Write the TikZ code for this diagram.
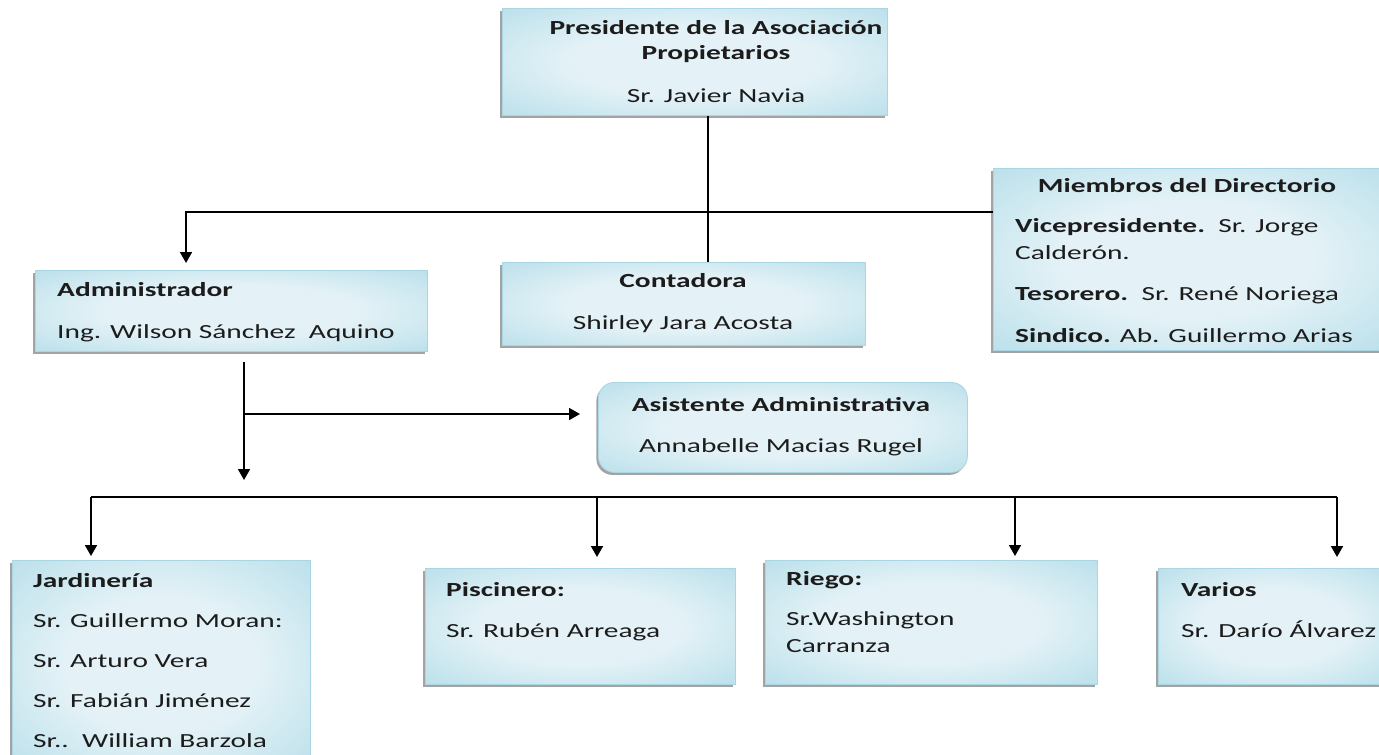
\documentclass[tikz,border=0pt]{standalone}
\usepackage{fontspec}
\setmainfont{Carlito}[FakeStretch=1.47]
\usetikzlibrary{arrows.meta, shadows}

\definecolor{boxdark}{HTML}{8ECADB}
\definecolor{boxmid}{HTML}{B6DEE9}
\definecolor{boxlight}{HTML}{E4F2F7}
\definecolor{boxedge}{HTML}{A9D6E2}
\definecolor{ink}{HTML}{1C1C1C}

\pgfdeclareradialshading{boxshade}{\pgfpoint{0bp}{0bp}}{%
  color(0bp)=(boxlight); color(16bp)=(boxlight); color(38bp)=(boxmid); color(60bp)=(boxdark); color(72bp)=(boxdark)}

\tikzset{
  orgbox/.style={draw=boxedge, line width=0.8pt, shading=boxshade,
    drop shadow={shadow xshift=-2pt, shadow yshift=-2.5pt, fill=black!45, opacity=0.8},
    anchor=north west, inner sep=0pt},
  txt/.style={text=ink, inner sep=0pt, font=\fontsize{20}{27}\selectfont},
  link/.style={line width=1.8pt, black},
  arr/.style={link, -{Triangle[length=11pt, width=12pt]}}
}

\begin{document}
\begin{tikzpicture}[x=1pt, y=-1pt]
\useasboundingbox (0,0) rectangle (1379,755);

% cajas
\node[orgbox, minimum width=385, minimum height=107] (pres) at (502,8) {};
\node[orgbox, minimum width=390, minimum height=182] (miem) at (993,168) {};
\node[orgbox, minimum width=392, minimum height=81] (adm) at (35,270) {};
\node[orgbox, minimum width=363, minimum height=83] (cont) at (502,262) {};
\node[orgbox, rounded corners=16pt, minimum width=369, minimum height=90] (asis) at (598,382) {};
\node[orgbox, minimum width=298, minimum height=210] (jard) at (12,560) {};
\node[orgbox, minimum width=310, minimum height=116] (pisc) at (425,568) {};
\node[orgbox, minimum width=332, minimum height=124] (rieg) at (765,560) {};
\node[orgbox, minimum width=230, minimum height=116] (vari) at (1158,568) {};

% textos
\node[txt, align=center, font=\fontsize{20}{25}\selectfont, anchor=north] (prestxt) at (716,20.5)
  {\textbf{Presidente de la Asociación}\\ \textbf{Propietarios}\\[17.5pt] Sr. Javier Navia};
\node[txt, anchor=north] (miemtit) at (1187,178) {\textbf{Miembros del Directorio}};
\node[txt, align=left, anchor=north west] (miemtxt) at (1015,218)
  {\textbf{Vicepresidente.}\ \ Sr. Jorge\\ Calderón.\\[14pt]
   \textbf{Tesorero.}\ \ Sr. René Noriega\\[15pt]
   \textbf{Sindico.} Ab. Guillermo Arias};
\node[txt, align=left, anchor=north west] (admtxt) at (57,282)
  {\textbf{Administrador}\\[15pt] Ing. Wilson Sánchez\ \ Aquino};
\node[txt, align=center, anchor=north] (conttxt) at (683,273)
  {\textbf{Contadora}\\[15pt] Shirley Jara Acosta};
\node[txt, align=center, anchor=north] (asistxt) at (781,397)
  {\textbf{Asistente Administrativa}\\[14pt] Annabelle Macias Rugel};
\node[txt, align=left, anchor=north west] (jardtxt) at (33,573)
  {\textbf{Jardinería}\\[13pt] Sr. Guillermo Moran:\\[13pt] Sr. Arturo Vera\\[13pt]
   Sr. Fabián Jiménez\\[13pt] Sr..\ \ William Barzola};
\node[txt, align=left, anchor=north west] (pisctxt) at (446,582)
  {\textbf{Piscinero:}\\[14pt] Sr. Rubén Arreaga};
\node[txt, align=left, anchor=north west] (riegtxt) at (786,571)
  {\textbf{Riego:}\\[13pt] Sr.Washington\\ Carranza};
\node[txt, align=left, anchor=north west] (varitxt) at (1181,582)
  {\textbf{Varios}\\[14pt] Sr. Darío Álvarez};

% conectores
\coordinate (j1) at (708,212);
\coordinate (a1) at (186,212);
\coordinate (b1) at (244,362);
\coordinate (b2) at (244,414);
\coordinate (b3) at (580,414);
\coordinate (b4) at (244,480);
\coordinate (bus1) at (91,497);
\coordinate (bus2) at (597,497);
\coordinate (bus3) at (1015,497);
\coordinate (bus4) at (1337,497);

\draw[link] (pres.south -| j1) -- (cont.north -| j1);
\draw[arr, shorten >=7pt] (miem.west |- j1) -- (a1) -- (a1 |- adm.north);
\draw[arr] (b1) -- (b4);
\draw[arr] (b2) -- (b3);
\draw[link] (bus1) -- (bus4);
\draw[arr, shorten >=4pt] (bus1) -- (bus1 |- jard.north);
\draw[arr, shorten >=11pt] (bus2) -- (bus2 |- pisc.north);
\draw[arr, shorten >=4pt] (bus3) -- (bus3 |- rieg.north);
\draw[arr, shorten >=11pt] (bus4) -- (bus4 |- vari.north);
\end{tikzpicture}
\end{document}
